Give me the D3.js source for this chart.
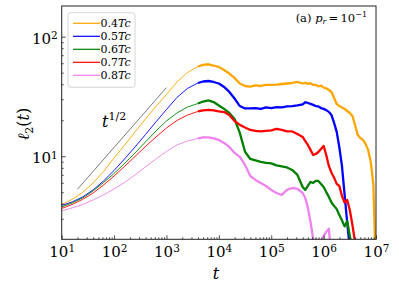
<!DOCTYPE html>
<html><head><meta charset="utf-8">
<script src="https://cdn.jsdelivr.net/npm/d3@7"></script>
<style>body{margin:0;background:#fff} text{font-family:"DejaVu Serif",serif}</style>
</head><body>
<svg id="c" width="399" height="288"></svg>
<script>
// ---------- data ----------
const times = [1e1,1.585e1,2.512e1,3.981e1,6.310e1,1e2,1.585e2,2.512e2,3.981e2,6.310e2,1e3,1.585e3,2.512e3,3.981e3,5.012e3,6.310e3,7.943e3,
  1e4,1.259e4,1.585e4,1.995e4,2.512e4,3.162e4,3.981e4,5.012e4,6.310e4,7.943e4,1e5,1.259e5,1.585e5,1.995e5,2.512e5,3.162e5,3.981e5,
  4.467e5,5.012e5,5.623e5,6.310e5,7.079e5,7.943e5,8.913e5,1e6,1.122e6,1.259e6,1.413e6,1.585e6,1.778e6,1.995e6,2.239e6,2.512e6,
  2.818e6,3.162e6,3.548e6,3.981e6,4.467e6,5.012e6,5.623e6,6.310e6,7.079e6,7.943e6,8.913e6,1e7];
const l04 = [3.95,4.36,4.98,5.98,7.46,9.68,12.4,16.0,20.5,26.1,32.9,41.8,50.2,56.3,
  58.2,58.8,57.4,55.8,52.7,49.2,45.2,40.6,38.7,38.3,39.1,38.7,39.5,39.5,39.8,40.2,40.6,41.0,41.8,40.6,
  41.2,40.3,40.8,39.5,39.6,38.5,38.9,37.6,37.0,35.8,34.5,30.7,27.4,26.3,25.6,24.9,23.9,23.0,21.7,18.3,15.1,14.2,13.7,12.7,11.3,8.96,5.75,1.0];
const l05 = [3.88,4.15,4.57,5.23,6.22,7.61,9.49,11.96,15.2,19.4,24.6,31.0,36.9,41.0,
  42.2,42.6,41.8,40.6,38.0,34.5,30.4,26.3,25.1,25.1,25.3,24.9,25.6,25.3,25.8,25.6,26.1,26.3,26.6,27.2,
  28.3,27.9,27.4,26.9,26.3,26.1,25.3,24.9,24.3,23.5,22.1,19.0,16.0,11.9,8.3,4.8,2.8,1.7,1.0,
  null,null,null,null,null,null,null,null,null];
const l06 = [3.77,4.07,4.48,5.13,6.04,7.18,8.71,10.66,13.17,16.27,19.73,23.0,25.8,27.6,
  28.7,29.3,28.4,26.6,24.9,23.0,20.5,15.7,10.9,9.49,9.22,8.96,8.79,8.71,8.38,8.22,8.06,7.68,6.98,5.54,
  5.23,5.64,6.10,5.98,6.22,6.22,5.87,5.54,5.03,4.57,4.10,3.84,3.62,3.22,2.91,2.59,2.88,2.16,1.64,1.0,
  null,null,null,null,null,null,null,null];
const l07 = [3.66,3.95,4.36,4.93,5.75,6.84,8.22,9.96,12.08,14.5,17.24,19.92,22.1,23.7,
  24.2,24.4,24.2,23.7,23.4,22.1,19.7,18.3,17.4,16.6,16.27,16.12,16.27,16.43,16.92,16.59,16.12,16.12,15.36,14.5,
  13.4,12.43,11.3,10.25,10.45,10.86,11.5,12.2,10.25,8.3,7.29,6.62,5.87,5.64,4.66,4.10,4.31,3.55,2.66,1.92,1.0,
  null,null,null,null,null,null,null];
const l08 = [3.49,3.70,3.95,4.31,4.75,5.33,6.04,6.98,8.14,9.49,10.97,12.43,13.42,14.09,
  14.36,14.36,14.09,13.69,12.92,11.96,10.66,9.87,8.47,6.84,6.34,5.98,5.64,5.23,4.93,4.75,5.23,5.43,5.33,4.93,
  4.48,3.70,2.82,2.04,1.2,1.0,1.6,2.16,2.33,2.48,1.4,
  null,null,null,null,null,null,null,null,null,null,null,null,null,null,null,null,null];
const temps = ["0.4","0.5","0.6","0.7","0.8"];
const colors = ["#ffa500","#0000ff","#008000","#ff0000","#ee82ee"];
const seriesValues = [l04,l05,l06,l07,l08];
const refT = [20, 1000];
const refL = [5.3, 37.5];
const xMajor = [1e1,1e2,1e3,1e4,1e5,1e6,1e7];
const yMajor = [1e1,1e2];

// ---------- layout ----------
const L=61.7, R=376, T=6, B=239.3;
const svg = d3.select("#c");
const x = d3.scaleLog().domain([10,1e7]).range([L,R]);
const y = d3.scaleLog().domain([2.02,180.6]).range([B,T]);

svg.append("defs").append("clipPath").attr("id","clip")
  .append("rect").attr("x",L).attr("y",T).attr("width",R-L).attr("height",B-T);

const plot = svg.append("g").attr("clip-path","url(#clip)");
const line = d3.line().defined(d=>d[1]!=null).x(d=>x(d[0])).y(d=>y(d[1]));
const SPLIT = 13;
seriesValues.forEach((vals,i)=>{
  const pts = times.map((t,j)=>[t,vals[j]]);
  plot.append("path").datum(pts.slice(0,SPLIT+1)).attr("d",line)
    .attr("fill","none").attr("stroke",colors[i]).attr("stroke-width",0.9);
  plot.append("path").datum(pts.slice(SPLIT)).attr("d",line)
    .attr("fill","none").attr("stroke",colors[i]).attr("stroke-width",2.3)
    .attr("stroke-linejoin","round");
});
plot.append("path").datum(refT.map((t,j)=>[t,refL[j]])).attr("d",line)
  .attr("fill","none").attr("stroke","#444").attr("stroke-width",0.7);

// ---------- axes ----------
function supLabels(sel){
  sel.selectAll(".tick text").each(function(d){
    const t = d3.select(this).text("");
    t.append("tspan").text("10");
    t.append("tspan").attr("dy","-0.45em").attr("font-size","10.5px").text(Math.round(Math.log10(d)));
  });
}
const gxMin = svg.append("g").attr("transform",`translate(0,${B})`)
  .call(d3.axisBottom(x).tickValues(x.ticks().filter(v=>!xMajor.includes(v))).tickSize(-2).tickFormat(""));
const gx = svg.append("g").attr("transform",`translate(0,${B})`)
  .call(d3.axisBottom(x).tickValues(xMajor).tickSize(-4).tickPadding(7));
gx.selectAll("text").attr("font-size","15px").attr("font-family","DejaVu Serif").attr("fill","#000");
supLabels(gx);
const gyMin = svg.append("g").attr("transform",`translate(${L},0)`)
  .call(d3.axisLeft(y).tickValues(y.ticks().filter(v=>!yMajor.includes(v))).tickSize(-2).tickFormat(""));
const gy = svg.append("g").attr("transform",`translate(${L},0)`)
  .call(d3.axisLeft(y).tickValues(yMajor).tickSize(-4).tickPadding(4));
gy.selectAll("text").attr("font-size","15px").attr("font-family","DejaVu Serif").attr("fill","#000").attr("dy","0.45em");
supLabels(gy);
[gxMin,gx,gyMin,gy].forEach(g=>{g.select(".domain").remove(); g.selectAll("line").attr("stroke","#222").attr("stroke-width",0.8);});

svg.append("rect").attr("x",L).attr("y",T).attr("width",R-L).attr("height",B-T)
  .attr("fill","none").attr("stroke","#222").attr("stroke-width",1);

// axis titles
svg.append("text").attr("x",216).attr("y",279).attr("text-anchor","middle")
  .attr("font-size","16px").attr("font-style","italic").text("t");
const yl = svg.append("text").attr("transform","translate(29,124) rotate(-90)")
  .attr("text-anchor","middle").attr("font-size","16px");
yl.append("tspan").attr("font-style","italic").text("ℓ");
yl.append("tspan").attr("font-size","11px").attr("dy","4").text("2");
yl.append("tspan").attr("dy","-4").text("(");
yl.append("tspan").attr("font-style","italic").text("t");
yl.append("tspan").text(")");

// t^{1/2}
const th = svg.append("text").attr("x",102).attr("y",127).attr("font-size","16px");
th.append("tspan").attr("font-style","italic").text("t");
th.append("tspan").attr("dy","-7").attr("font-size","11px").text("1/2");

// annotation
const an = svg.append("text").attr("x",367).attr("y",22).attr("text-anchor","end").attr("font-size","11.5px");
an.append("tspan").text("(a) ");
an.append("tspan").attr("font-style","italic").text("p");
an.append("tspan").attr("font-size","8px").attr("font-style","italic").attr("dy","2").text("r");
an.append("tspan").attr("dy","-2").text("\u2009=\u200910");
an.append("tspan").attr("font-size","8px").attr("dy","-5").text("\u22121");

// legend
const lg = svg.append("g");
lg.append("rect").attr("x",68).attr("y",12.7).attr("width",67).attr("height",74.6).attr("rx",3)
  .attr("fill","#fff").attr("stroke","#ccc").attr("stroke-width",0.8);
temps.forEach((tp,i)=>{
  const yy = 23.3 + i*13;
  lg.append("line").attr("x1",73).attr("x2",100).attr("y1",yy).attr("y2",yy)
    .attr("stroke",colors[i]).attr("stroke-width",1.2);
  const tx = lg.append("text").attr("x",100.5).attr("y",yy+4).attr("font-size","11px");
  tx.append("tspan").text(tp);
  tx.append("tspan").attr("font-style","italic").text("Tc");
});
</script>
</body></html>
